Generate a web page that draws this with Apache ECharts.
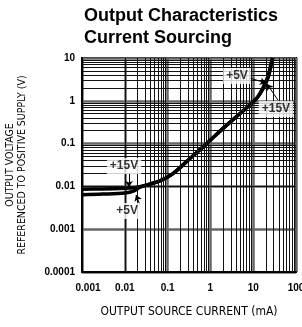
<!DOCTYPE html>
<html>
<head>
<meta charset="utf-8">
<script src="https://cdn.jsdelivr.net/npm/echarts@6/dist/echarts.min.js"></script>
<style>
  html, body { margin: 0; padding: 0; background: #fff; }
  #chart { width: 302px; height: 327px; }
</style>
</head>
<body>
<div id="chart"></div>
<script>
// tick labels
const xTickLabels = ['0.001', '0.01', '0.1', '1', '10', '100']
const yTickLabels = ['0.0001', '0.001', '0.01', '0.1', '1', '10']

// curves: [current mA, voltage V]
const curve15V = [
  [0.001, 0.0086], [0.003, 0.0087], [0.01, 0.009], [0.017, 0.0093],
  [0.0227, 0.0098], [0.066, 0.0134], [0.136, 0.0202], [0.333, 0.045],
  [0.82, 0.1], [2, 0.23], [5, 0.51], [12, 1.14], [17.5, 2.0],
  [23, 3.8], [26, 6.5], [29, 10]
]
const curve5V = [
  [0.001, 0.0064], [0.003, 0.0066], [0.01, 0.007], [0.017, 0.008],
  [0.0227, 0.0096], [0.066, 0.0134], [0.136, 0.0202], [0.333, 0.045],
  [0.82, 0.1], [2, 0.23], [5, 0.51], [12, 1.14], [17, 2.05],
  [22.3, 3.85], [25.3, 6.5], [28.3, 10]
]

// callout labels: [x, y, text]
const callouts = [
  [4.18, 3.8, '+5V'],
  [34, 0.64, '+15V'],
  [0.0096, 0.03, '+15V'],
  [0.0113, 0.00266, '+5V']
]
// callout arrows: [from, to]
const arrows = [
  [[8.4, 3.4], [19.9, 2.6]],
  [[37.9, 1.04], [21, 2.47]],
  [[0.0125, 0.0195], [0.0125, 0.0097]],
  [[0.0226, 0.00367], [0.0183, 0.0063]]
]

const minorSteps = [2, 3, 4, 5, 6, 7, 8, 9]
const xDecades = [-3, -2, -1, 0, 1]
const yDecades = [-4, -3, -2, -1, 0]

const minorLines = []
xDecades.forEach(d => minorSteps.forEach(m => minorLines.push({ xAxis: m * Math.pow(10, d) })))
yDecades.forEach(d => minorSteps.forEach(m => minorLines.push({ yAxis: m * Math.pow(10, d) })))

const fontMain = 'Liberation Sans, Arial, sans-serif'
const fontNarrow = 'Liberation Sans Narrow, DejaVu Sans Condensed, sans-serif'

const myChart = echarts.init(document.getElementById('chart'), null, { renderer: 'canvas' })

const option = {
  animation: false,
  backgroundColor: '#fff',
  title: {
    text: 'Output Characteristics\nCurrent Sourcing',
    left: 84,
    top: 5,
    padding: 0,
    textStyle: { fontFamily: fontMain, fontSize: 18, fontWeight: 'bold', color: '#000', lineHeight: 22 }
  },
  grid: {
    left: 82, right: 6, top: 58, bottom: 55,
    outerBoundsMode: 'none',
    containLabel: false,
    show: true, borderColor: '#000', borderWidth: 2
  },
  xAxis: {
    type: 'log',
    logBase: 10,
    min: 0.001,
    max: 100,
    name: 'OUTPUT SOURCE CURRENT (mA)',
    nameLocation: 'middle',
    nameGap: 34,
    nameMoveOverlap: false,
    nameTextStyle: { fontFamily: fontNarrow, fontSize: 12, color: '#000' },
    axisLine: { lineStyle: { color: '#000', width: 2 } },
    axisTick: { show: false },
    splitLine: { show: true, lineStyle: { color: '#666', width: 2.5 } },
    axisLabel: {
      margin: 11,
      color: '#000',
      fontFamily: fontMain,
      fontSize: 10,
      fontWeight: 'bold',
      showMinLabel: true,
      showMaxLabel: true,
      hideOverlap: false,
      formatter: v => {
        const i = Math.round(Math.log10(v)) + 3
        return i === 0 ? '{a|' + xTickLabels[i] + '}' : xTickLabels[i]
      },
      rich: { a: { fontFamily: fontMain, fontSize: 10, fontWeight: 'bold', color: '#000', padding: [0, 0, 0, 12] } }
    }
  },
  yAxis: {
    type: 'log',
    logBase: 10,
    min: 0.0001,
    max: 10,
    name: 'OUTPUT VOLTAGE\nREFERENCED TO POSITIVE SUPPLY (V)',
    nameLocation: 'middle',
    nameRotate: 90,
    nameGap: 54,
    nameMoveOverlap: false,
    nameTextStyle: { fontFamily: fontNarrow, fontSize: 10.5, color: '#000', lineHeight: 12 },
    axisLine: { lineStyle: { color: '#000', width: 2 } },
    axisTick: { show: false },
    splitLine: { show: true, lineStyle: { color: '#666', width: 2.5 } },
    axisLabel: {
      margin: 7,
      color: '#000',
      fontFamily: fontMain,
      fontSize: 10,
      fontWeight: 'bold',
      showMinLabel: true,
      showMaxLabel: true,
      formatter: v => yTickLabels[Math.round(Math.log10(v)) + 4]
    }
  },
  series: [
    {
      // minor log grid
      type: 'line',
      data: [],
      z: 1,
      silent: true,
      markLine: {
        silent: true,
        symbol: ['none', 'none'],
        label: { show: false },
        lineStyle: { color: '#111', width: 1, type: 'solid', opacity: 1 },
        data: minorLines
      }
    },
    {
      name: '+15V',
      type: 'line',
      data: curve15V,
      smooth: 0.3,
      showSymbol: false,
      z: 3,
      lineStyle: { color: '#000', width: 3.5 }
    },
    {
      name: '+5V',
      type: 'line',
      data: curve5V,
      smooth: 0.3,
      showSymbol: false,
      z: 3,
      lineStyle: { color: '#000', width: 3.5 }
    },
    {
      type: 'scatter',
      z: 5,
      symbolSize: 0,
      data: callouts.map(c => ({ value: [c[0], c[1]], name: c[2] })),
      label: {
        show: true,
        position: 'inside',
        formatter: p => p.name,
        fontFamily: fontMain,
        fontSize: 12,
        fontWeight: 'bold',
        color: '#000',
        backgroundColor: '#fff',
        padding: [2, 3]
      },
      markLine: {
        silent: true,
        symbol: ['none', 'arrow'],
        symbolSize: 6,
        label: { show: false },
        lineStyle: { color: '#000', width: 1, type: 'solid' },
        data: arrows.map(a => [{ coord: a[0] }, { coord: a[1] }])
      }
    }
  ]
}

myChart.setOption(option)
</script>
</body>
</html>
